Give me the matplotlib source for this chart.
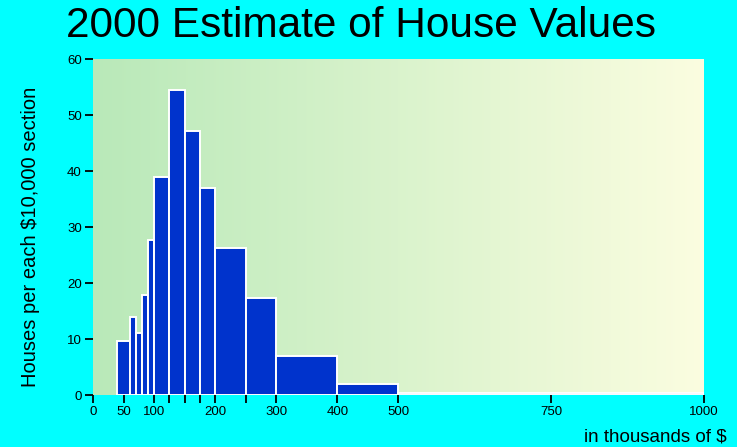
import numpy as np
import matplotlib
matplotlib.use("Agg")
import matplotlib.pyplot as plt
from matplotlib.colors import LinearSegmentedColormap

# bin edges (thousands of $) and houses per $10,000 section
bin_left = [40, 60, 70, 80, 90, 100, 125, 150, 175, 200, 250, 300, 400, 500]
bin_right = [60, 70, 80, 90, 100, 125, 150, 175, 200, 250, 300, 400, 500, 1000]
houses = [9.7, 14.0, 11.1, 17.9, 27.6, 39.0, 54.4, 47.2, 37.0, 26.2, 17.3, 6.95, 1.9, 0.4]

tick_pos = [0, 50, 100, 125, 150, 175, 200, 250, 300, 400, 500, 750, 1000]
tick_labels = ["0", "50", "100", "", "", "", "200", "", "300", "400", "500", "750", "1000"]

plt.rcParams['font.family'] = ['Liberation Sans', 'DejaVu Sans']

fig = plt.figure(figsize=(7.37, 4.47), dpi=100, facecolor="#00ffff")
ax = fig.add_axes([0.1262, 0.1163, 0.829, 0.7517])

# horizontal gradient background
cmap = LinearSegmentedColormap.from_list("bg", ["#b9e9b9", "#fbfde0"])
grad = np.linspace(0, 1, 256).reshape(1, -1)
ax.imshow(grad, cmap=cmap, aspect="auto", extent=[0, 1000, 0, 60], zorder=0)

widths = [r - l for l, r in zip(bin_left, bin_right)]
ax.bar(bin_left, houses, width=widths, align="edge", color="#0033cc",
       edgecolor="white", linewidth=1.4, zorder=2)

ax.set_xlim(0, 1000)
ax.set_ylim(0, 60)
for s in ax.spines.values():
    s.set_visible(False)

ax.set_xticks(tick_pos)
ax.set_xticklabels(tick_labels)
ax.set_yticks(range(0, 61, 10))
ax.tick_params(axis="both", direction="out", length=6, width=1.3, color="black",
               labelsize=9.5, pad=2)

fig.text(0.49, 0.942, "2000 Estimate of House Values", ha="center", va="center",
         fontsize=30.5)
fig.text(0.042, 0.47, "Houses per each $10,000 section", rotation=90,
         ha="center", va="center", fontsize=14.5)
fig.text(0.986, 0.022, "in thousands of $", ha="right", va="center", fontsize=13.5)

fig.savefig("out.png", dpi=100, facecolor=fig.get_facecolor())
